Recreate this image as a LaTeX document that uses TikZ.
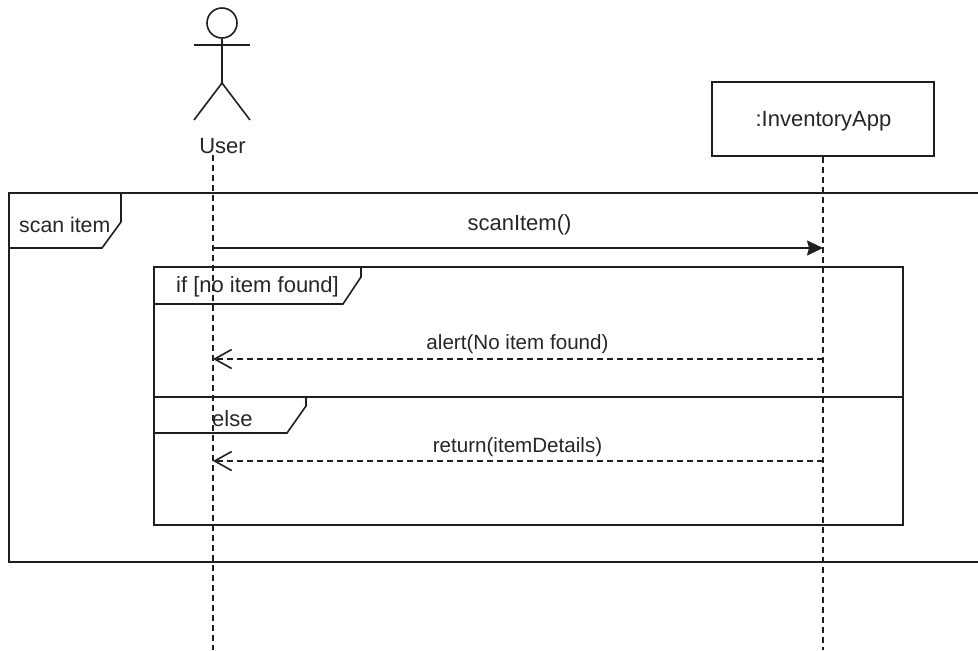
\documentclass[tikz,border=0pt]{standalone}
\usepackage{fontspec}
\setmainfont{Liberation Sans}
\usetikzlibrary{arrows.meta}
\tikzset{
  ln/.style={draw=black!88,line width=1.6pt},
  lifeline/.style={ln,dash pattern=on 6pt off 4pt},
  msg/.style={ln,-{Stealth[length=16pt,width=15pt,inset=2pt]}},
  reply/.style={ln,dash pattern=on 6pt off 4pt,-{Straight Barb[length=17pt,width=19pt,line width=1.6pt]}},
  lab/.style={inner sep=0pt,text=black!85,font=\fontsize{22}{25}\selectfont},
  smalllab/.style={inner sep=0pt,text=black!85,font=\fontsize{20.6}{24}\selectfont},
}
\begin{document}
\begin{tikzpicture}[x=1pt,y=-1pt]
\useasboundingbox (0,0) rectangle (978,651);
% frames
\draw[ln] (978,193) -- (9,193) -- (9,562) -- (978,562);
\draw[ln] (121,193) -- (121,222) -- (102,248) -- (9,248);
\draw[ln] (154,267) rectangle (903,525);
\draw[ln] (361,267) -- (361,277) -- (343,304) -- (154,304);
\draw[ln] (154,397) -- (903,397);
\draw[ln] (306,397) -- (306,406) -- (287,433) -- (154,433);
% actor
\node[ln,draw,circle,minimum size=30pt,inner sep=0pt] (head) at (222,23) {};
\coordinate (hip) at (222,83);
\coordinate (armL) at (194,45);
\coordinate (armR) at (250,45);
\coordinate (legL) at (194,120);
\coordinate (legR) at (250,120);
\draw[ln] (head.south) -- (hip);
\draw[ln] (armL) -- (armR);
\draw[ln] (legL) -- (hip) -- (legR);
\node[lab] (user) at (222.5,146) {User};
% object
\node[ln,draw,minimum width=222pt,minimum height=74pt,inner sep=0pt] (app) at (823,119) {};
\node[lab] (applabel) at (823.5,121) {:InventoryApp};
% lifelines
\coordinate (uTop) at (213,155);
\coordinate (uEnd) at (213,650);
\coordinate (aEnd) at (823,650);
\draw[lifeline] (uTop) -- (uEnd);
\draw[lifeline] (app.south) -- (aEnd);
% messages
\coordinate (m1s) at (213,248);
\coordinate (m1e) at (823,248);
\coordinate (m2s) at (823,359);
\coordinate (m2e) at (213,359);
\coordinate (m3s) at (823,461);
\coordinate (m3e) at (213,461);
\draw[msg] (m1s) -- (m1e);
\draw[reply] (m2s) -- (m2e);
\draw[reply] (m3s) -- (m3e);
% labels
\node[lab] (l1) at (519.5,225) {scanItem()};
\node[smalllab] (l2) at (517.5,344) {alert(No item found)};
\node[smalllab] (l3) at (517.5,447) {return(itemDetails)};
\node[lab,anchor=west,font=\fontsize{21.3}{25}\selectfont] (t1) at (19,225) {scan item};
\node[lab,anchor=west] (t2) at (176,287) {if [no item found]};
\node[lab,anchor=west] (t3) at (212,419) {else};
\end{tikzpicture}
\end{document}
